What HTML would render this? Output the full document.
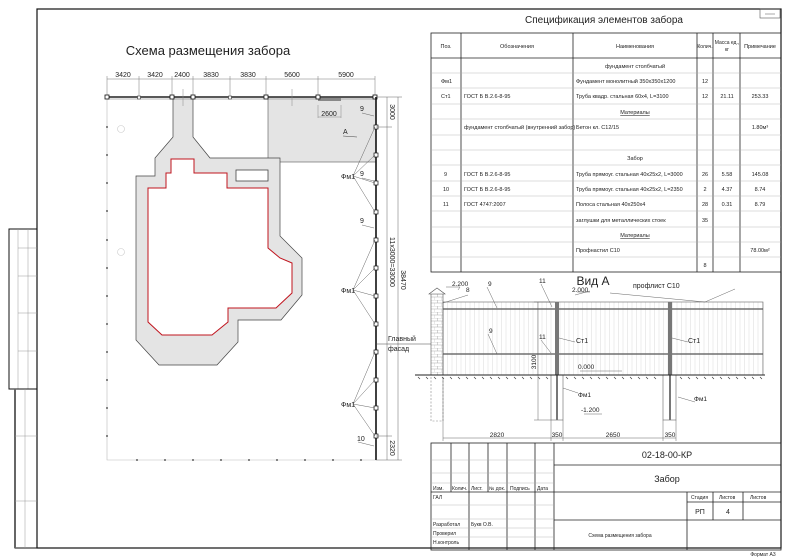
<!DOCTYPE html>
<html><head><meta charset="utf-8"><style>
html,body{margin:0;padding:0;background:#fff}
svg{display:block}
text{font-family:"Liberation Sans",sans-serif;fill:#222}
</style></head><body>
<svg width="790" height="558" viewBox="0 0 790 558" xmlns="http://www.w3.org/2000/svg">
<defs>
<pattern id="vl" width="4.5" height="10" patternUnits="userSpaceOnUse"><line x1="2" y1="0" x2="2" y2="10" stroke="#d0d0d0" stroke-width="0.4"/></pattern>
<pattern id="brick" width="7" height="6" patternUnits="userSpaceOnUse"><path d="M0 0H7M0 3H7M3.5 0V3M0 3V6" stroke="#aaa" stroke-width="0.5" fill="none"/></pattern>
</defs>
<rect x="37" y="9" width="744" height="539" fill="none" stroke="#111" stroke-width="1.2"/>
<rect x="760" y="9" width="20" height="9" fill="none" stroke="#555" stroke-width="0.6"/>
<line x1="765" y1="14" x2="775" y2="14" stroke="#555" stroke-width="0.5"/>
<rect x="9" y="229" width="28" height="160" fill="none" stroke="#111" stroke-width="1"/>
<g stroke="#999" stroke-width="0.5"><line x1="18" y1="229" x2="18" y2="389"/><line x1="28" y1="229" x2="28" y2="389"/>
<line x1="18" y1="248" x2="37" y2="248"/><line x1="18" y1="276" x2="37" y2="276"/><line x1="18" y1="313" x2="37" y2="313"/><line x1="18" y1="351" x2="37" y2="351"/></g>
<rect x="15" y="389" width="22" height="159" fill="none" stroke="#111" stroke-width="1"/>
<line x1="15" y1="389" x2="15" y2="548" stroke="#666" stroke-width="2"/>
<g stroke="#999" stroke-width="0.5"><line x1="25" y1="389" x2="25" y2="548"/><line x1="15" y1="436" x2="37" y2="436"/><line x1="15" y1="501" x2="37" y2="501"/></g>

<text x="208" y="55" font-size="13" text-anchor="middle">Схема размещения забора</text>
<g stroke="#777" stroke-width="0.5"><line x1="107" y1="79" x2="375" y2="79"/>
<line x1="107" y1="76" x2="107" y2="97"/><line x1="139" y1="76" x2="139" y2="97"/><line x1="172" y1="76" x2="172" y2="97"/><line x1="193" y1="76" x2="193" y2="97"/><line x1="230" y1="76" x2="230" y2="97"/><line x1="266" y1="76" x2="266" y2="97"/><line x1="318" y1="76" x2="318" y2="97"/><line x1="375" y1="76" x2="375" y2="97"/></g>
<g font-size="7" text-anchor="middle"><text x="123" y="77">3420</text><text x="155" y="77">3420</text><text x="182" y="77">2400</text><text x="211" y="77">3830</text><text x="248" y="77">3830</text><text x="292" y="77">5600</text><text x="346" y="77">5900</text></g>

<rect x="268" y="97" width="108" height="65" fill="#e4e4e4" stroke="#555" stroke-width="0.6"/>
<path d="M107 97V460H376" fill="none" stroke="#bbb" stroke-width="0.6"/>
<g fill="#333"><circle cx="107" cy="127" r="0.9"/><circle cx="107" cy="155" r="0.9"/><circle cx="107" cy="183" r="0.9"/><circle cx="107" cy="211" r="0.9"/><circle cx="107" cy="240" r="0.9"/><circle cx="107" cy="268" r="0.9"/><circle cx="107" cy="296" r="0.9"/><circle cx="107" cy="324" r="0.9"/><circle cx="107" cy="352" r="0.9"/><circle cx="107" cy="380" r="0.9"/><circle cx="107" cy="408" r="0.9"/><circle cx="107" cy="436" r="0.9"/>
<circle cx="137" cy="460" r="0.9"/><circle cx="165" cy="460" r="0.9"/><circle cx="193" cy="460" r="0.9"/><circle cx="221" cy="460" r="0.9"/><circle cx="249" cy="460" r="0.9"/><circle cx="277" cy="460" r="0.9"/><circle cx="305" cy="460" r="0.9"/><circle cx="333" cy="460" r="0.9"/><circle cx="361" cy="460" r="0.9"/></g>
<circle cx="121" cy="129" r="3.5" fill="none" stroke="#ccc" stroke-width="0.6"/>
<circle cx="121" cy="252" r="3.5" fill="none" stroke="#ccc" stroke-width="0.6"/>
<path d="M173 97H193V137L210 158H280V236L302 258V295L281 320H238V342L217 365H159L136 340V176H155V158L173 137Z" fill="#e4e4e4" stroke="#444" stroke-width="0.7"/>
<path d="M148 188H166V173H171V159H194V173H227V188H268V248L280 258L292 263V293L276 308H228V322L212 335H162L148 322Z" fill="#fff" stroke="#c0141e" stroke-width="1"/>
<rect x="236" y="170" width="32" height="11" fill="#fff" stroke="#444" stroke-width="0.8"/>
<line x1="107" y1="97" x2="376" y2="97" stroke="#222" stroke-width="1.6"/>
<line x1="107" y1="99" x2="376" y2="99" stroke="#777" stroke-width="0.5"/>
<rect x="318" y="98" width="23" height="3" fill="#888"/>
<g fill="#fff" stroke="#111" stroke-width="0.8"><rect x="105" y="95" width="4" height="4"/><rect x="170" y="95" width="4" height="4"/><rect x="191" y="95" width="4" height="4"/><rect x="264" y="95" width="4" height="4"/><rect x="316" y="95" width="4" height="4"/><rect x="373" y="95" width="4" height="4"/></g>
<g fill="#fff" stroke="#333" stroke-width="0.6"><rect x="137.5" y="96" width="3" height="3"/><rect x="228.5" y="96" width="3" height="3"/></g>
<g stroke="#888" stroke-width="0.5"><line x1="183" y1="89" x2="183" y2="106"/><line x1="292" y1="89" x2="292" y2="106"/><line x1="318" y1="105" x2="318" y2="118"/><line x1="341" y1="105" x2="341" y2="118"/><line x1="318" y1="117" x2="341" y2="117"/></g>
<text x="329" y="116" font-size="7" text-anchor="middle">2600</text>
<text x="343" y="134" font-size="7">A</text><line x1="343" y1="136" x2="357" y2="137" stroke="#444" stroke-width="0.5"/>
<line x1="376" y1="97" x2="376" y2="460" stroke="#111" stroke-width="1.6"/>
<g fill="#fff" stroke="#111" stroke-width="0.7">
<rect x="374" y="125" width="4" height="4"/><rect x="374" y="153" width="4" height="4"/><rect x="374" y="181" width="4" height="4"/><rect x="374" y="210" width="4" height="4"/><rect x="374" y="238" width="4" height="4"/><rect x="374" y="266" width="4" height="4"/><rect x="374" y="294" width="4" height="4"/><rect x="374" y="322" width="4" height="4"/><rect x="374" y="350" width="4" height="4"/><rect x="374" y="378" width="4" height="4"/><rect x="374" y="406" width="4" height="4"/><rect x="374" y="434" width="4" height="4"/></g>
<g stroke="#555" stroke-width="0.45" fill="none">
<path d="M353 176L375 127M353 176L375 155M353 176L375 183M353 176L375 212"/>
<path d="M353 290L375 240M353 290L375 268M353 290L375 296M353 290L375 324"/>
<path d="M353 404L375 352M353 404L375 380M353 404L375 408M353 404L375 436"/>
<path d="M362 113L374 116M362 178L374 181M362 225L374 228M358 442L374 446"/>
<line x1="376" y1="97" x2="402" y2="97"/><line x1="376" y1="127" x2="392" y2="127"/><line x1="376" y1="436" x2="392" y2="436"/><line x1="376" y1="460" x2="402" y2="460"/>
<line x1="387" y1="97" x2="387" y2="460"/><line x1="398" y1="97" x2="398" y2="460"/></g>
<g font-size="7"><text x="341" y="179">Фм1</text><text x="341" y="293">Фм1</text><text x="341" y="407">Фм1</text>
<text x="360" y="111">9</text><text x="360" y="176">9</text><text x="360" y="223">9</text><text x="357" y="441">10</text></g>
<g font-size="7" text-anchor="middle">
<text transform="translate(390,112) rotate(90)">3000</text>
<text transform="translate(390,262) rotate(90)">11x3000=33000</text>
<text transform="translate(401,280) rotate(90)">38470</text>
<text transform="translate(390,448) rotate(90)">2320</text></g>
<text x="388" y="341" font-size="7">Главный</text><text x="388" y="351" font-size="7">фасад</text>
<line x1="375" y1="344" x2="431" y2="344" stroke="#444" stroke-width="0.5"/>

<text x="604" y="23" font-size="10" text-anchor="middle">Спецификация элементов забора</text>
<g stroke="#222" stroke-width="0.8" fill="none">
<rect x="431" y="33" width="350" height="239"/>
<line x1="461" y1="33" x2="461" y2="272"/><line x1="573" y1="33" x2="573" y2="272"/><line x1="697" y1="33" x2="697" y2="272"/><line x1="713" y1="33" x2="713" y2="272"/><line x1="740" y1="33" x2="740" y2="272"/>
<line x1="431" y1="58" x2="781" y2="58"/></g>
<g stroke="#aaa" stroke-width="0.4">
<line x1="431" y1="73" x2="781" y2="73"/><line x1="431" y1="88" x2="781" y2="88"/><line x1="431" y1="104" x2="781" y2="104"/><line x1="431" y1="119" x2="781" y2="119"/><line x1="431" y1="135" x2="781" y2="135"/><line x1="431" y1="150" x2="781" y2="150"/><line x1="431" y1="165" x2="781" y2="165"/><line x1="431" y1="181" x2="781" y2="181"/><line x1="431" y1="196" x2="781" y2="196"/><line x1="431" y1="211" x2="781" y2="211"/><line x1="431" y1="227" x2="781" y2="227"/><line x1="431" y1="242" x2="781" y2="242"/><line x1="431" y1="257" x2="781" y2="257"/></g>
<g font-size="5.5">
<text x="446" y="48" text-anchor="middle">Поз.</text><text x="517" y="48" text-anchor="middle">Обозначения</text><text x="635" y="48" text-anchor="middle">Наименования</text><text x="705" y="48" text-anchor="middle" font-size="5">Колич.</text><text x="727" y="44" text-anchor="middle" font-size="5">Масса ед.,</text><text x="727" y="51" text-anchor="middle" font-size="5">кг</text><text x="760" y="48" text-anchor="middle">Примечание</text>
<text x="635" y="68" text-anchor="middle">фундамент столбчатый</text>
<text x="441" y="83">Фм1</text><text x="576" y="83">Фундамент монолитный 350х350х1200</text><text x="705" y="83" text-anchor="middle">12</text>
<text x="441" y="98">Ст1</text><text x="464" y="98">ГОСТ Б В.2.6-8-95</text><text x="576" y="98">Труба квадр. стальная 60х4, L=3100</text><text x="705" y="98" text-anchor="middle">12</text><text x="727" y="98" text-anchor="middle">21.11</text><text x="760" y="98" text-anchor="middle">253.33</text>
<text x="635" y="114" text-anchor="middle" text-decoration="underline">Материалы</text>
<text x="464" y="129">фундамент столбчатый (внутренний забор)</text><text x="576" y="129">Бетон кл. С12/15</text><text x="760" y="129" text-anchor="middle">1.80м³</text>
<text x="635" y="160" text-anchor="middle">Забор</text>
<text x="444" y="176">9</text><text x="464" y="176">ГОСТ Б В.2.6-8-95</text><text x="576" y="176">Труба прямоуг. стальная 40х25х2, L=3000</text><text x="705" y="176" text-anchor="middle">26</text><text x="727" y="176" text-anchor="middle">5.58</text><text x="760" y="176" text-anchor="middle">145.08</text>
<text x="443" y="191">10</text><text x="464" y="191">ГОСТ Б В.2.6-8-95</text><text x="576" y="191">Труба прямоуг. стальная 40х25х2, L=2350</text><text x="705" y="191" text-anchor="middle">2</text><text x="727" y="191" text-anchor="middle">4.37</text><text x="760" y="191" text-anchor="middle">8.74</text>
<text x="443" y="206">11</text><text x="464" y="206">ГОСТ 4747:2007</text><text x="576" y="206">Полоса стальная 40х250х4</text><text x="705" y="206" text-anchor="middle">28</text><text x="727" y="206" text-anchor="middle">0.31</text><text x="760" y="206" text-anchor="middle">8.79</text>
<text x="576" y="222">заглушки для металлических стоек</text><text x="705" y="222" text-anchor="middle">35</text>
<text x="635" y="237" text-anchor="middle" text-decoration="underline">Материалы</text>
<text x="576" y="252">Профнастил С10</text><text x="760" y="252" text-anchor="middle">78.00м²</text>
<text x="705" y="267" text-anchor="middle">8</text></g>

<text x="593" y="285" font-size="12" text-anchor="middle">Вид А</text>
<rect x="443" y="302" width="320" height="73" fill="url(#vl)" stroke="#666" stroke-width="0.6"/>
<g stroke="#555" stroke-width="1.2"><line x1="443" y1="309" x2="763" y2="309"/><line x1="443" y1="354" x2="763" y2="354"/></g>
<rect x="431" y="293" width="12" height="82" fill="url(#brick)" stroke="#555" stroke-width="0.6"/>
<path d="M429 294L437 288L445 294Z" fill="#fff" stroke="#555" stroke-width="0.6"/>
<rect x="431" y="375" width="12" height="46" fill="none" stroke="#888" stroke-width="0.6" stroke-dasharray="2 1.5"/>
<rect x="555" y="302" width="4" height="73" fill="#777"/><rect x="668" y="302" width="4" height="73" fill="#777"/>
<g fill="none" stroke="#666" stroke-width="0.6"><rect x="551" y="375" width="12" height="45"/><rect x="663" y="375" width="13" height="45"/></g>
<line x1="557" y1="375" x2="557" y2="420" stroke="#777" stroke-width="2"/><line x1="670" y1="375" x2="670" y2="420" stroke="#777" stroke-width="2"/>
<line x1="415" y1="375" x2="765" y2="375" stroke="#222" stroke-width="1"/>
<path d="M418 377l2 2M426 377l2 2M434 377l2 2M442 377l2 2M450 377l2 2M458 377l2 2M466 377l2 2M474 377l2 2M482 377l2 2M490 377l2 2M498 377l2 2M506 377l2 2M514 377l2 2M522 377l2 2M530 377l2 2M538 377l2 2M546 377l2 2M566 377l2 2M574 377l2 2M582 377l2 2M590 377l2 2M598 377l2 2M606 377l2 2M614 377l2 2M622 377l2 2M630 377l2 2M638 377l2 2M646 377l2 2M654 377l2 2M680 377l2 2M688 377l2 2M696 377l2 2M704 377l2 2M712 377l2 2M720 377l2 2M728 377l2 2M736 377l2 2M744 377l2 2M752 377l2 2M760 377l2 2" stroke="#333" stroke-width="0.6"/>
<g stroke="#555" stroke-width="0.45" fill="none">
<line x1="538" y1="302" x2="538" y2="420"/><line x1="534" y1="302" x2="555" y2="302"/><line x1="534" y1="420" x2="551" y2="420"/>
<line x1="443" y1="438" x2="676" y2="438"/><line x1="443" y1="378" x2="443" y2="441"/><line x1="551" y1="420" x2="551" y2="441"/><line x1="563" y1="420" x2="563" y2="441"/><line x1="663" y1="420" x2="663" y2="441"/><line x1="676" y1="420" x2="676" y2="441"/>
<path d="M443 303L468 295M487 287L497 308M541 284L552 307M575 295L590 291M610 293L705 302L735 289M488 334L497 354M541 340L551 353M575 342L559 338M688 342L672 338M580 371L622 371M584 414L602 414M578 393L563 388M695 402L678 397"/>
<path d="M446 287H460M460 287l-2 3M577 292H590"/>
</g>
<g font-size="6.5">
<text x="452" y="286">2.200</text><text x="466" y="292">8</text><text x="488" y="286">9</text><text x="539" y="283">11</text><text x="572" y="292">2.000</text><text x="633" y="288" font-size="7">профлист С10</text>
<text x="489" y="333">9</text><text x="539" y="339">11</text><text x="576" y="343" font-size="7">Ст1</text><text x="688" y="343" font-size="7">Ст1</text>
<text x="578" y="369">0.000</text><text x="578" y="397">Фм1</text><text x="694" y="401">Фм1</text><text x="581" y="412">-1.200</text>
<text transform="translate(536,362) rotate(-90)" text-anchor="middle">3100</text>
<text x="497" y="437" text-anchor="middle">2820</text><text x="557" y="437" text-anchor="middle">350</text><text x="613" y="437" text-anchor="middle">2650</text><text x="670" y="437" text-anchor="middle">350</text></g>

<g stroke="#222" stroke-width="0.8" fill="none">
<rect x="431" y="443" width="350" height="107"/>
<line x1="554" y1="443" x2="554" y2="550"/><line x1="554" y1="465" x2="781" y2="465"/><line x1="431" y1="492" x2="781" y2="492"/>
<line x1="554" y1="520" x2="781" y2="520"/><line x1="687" y1="492" x2="687" y2="550"/><line x1="713" y1="492" x2="713" y2="520"/><line x1="743" y1="492" x2="743" y2="520"/><line x1="687" y1="502" x2="781" y2="502"/>
<line x1="451" y1="443" x2="451" y2="492"/><line x1="469" y1="443" x2="469" y2="550"/><line x1="488" y1="443" x2="488" y2="492"/><line x1="507" y1="443" x2="507" y2="550"/><line x1="535" y1="443" x2="535" y2="550"/></g>
<g stroke="#aaa" stroke-width="0.4"><line x1="431" y1="460" x2="554" y2="460"/><line x1="431" y1="473" x2="554" y2="473"/><line x1="431" y1="483" x2="554" y2="483"/><line x1="431" y1="505" x2="554" y2="505"/><line x1="431" y1="519" x2="554" y2="519"/><line x1="431" y1="528" x2="554" y2="528"/><line x1="431" y1="537" x2="554" y2="537"/></g>
<g font-size="5"><text x="433" y="490">Изм.</text><text x="452" y="490">Колич.</text><text x="471" y="490">Лист.</text><text x="489" y="490">№ док.</text><text x="510" y="490">Подпись</text><text x="537" y="490">Дата</text>
<text x="433" y="499">ГАЛ</text><text x="433" y="526">Разработал</text><text x="471" y="526">Букв О.В.</text><text x="433" y="535">Проверил</text><text x="433" y="544">Н.контроль</text>
<text x="691" y="499">Стадия</text><text x="719" y="499">Листов</text><text x="750" y="499">Листов</text>
<text x="620" y="537" text-anchor="middle">Схема размещения забора</text></g>
<text x="667" y="458" font-size="9" text-anchor="middle">02-18-00-КР</text>
<text x="667" y="482" font-size="9" text-anchor="middle">Забор</text>
<text x="700" y="514" font-size="7" text-anchor="middle">РП</text><text x="728" y="514" font-size="7" text-anchor="middle">4</text>
<text x="763" y="556" font-size="5" text-anchor="middle">Формат А3</text>
</svg>
</body></html>
